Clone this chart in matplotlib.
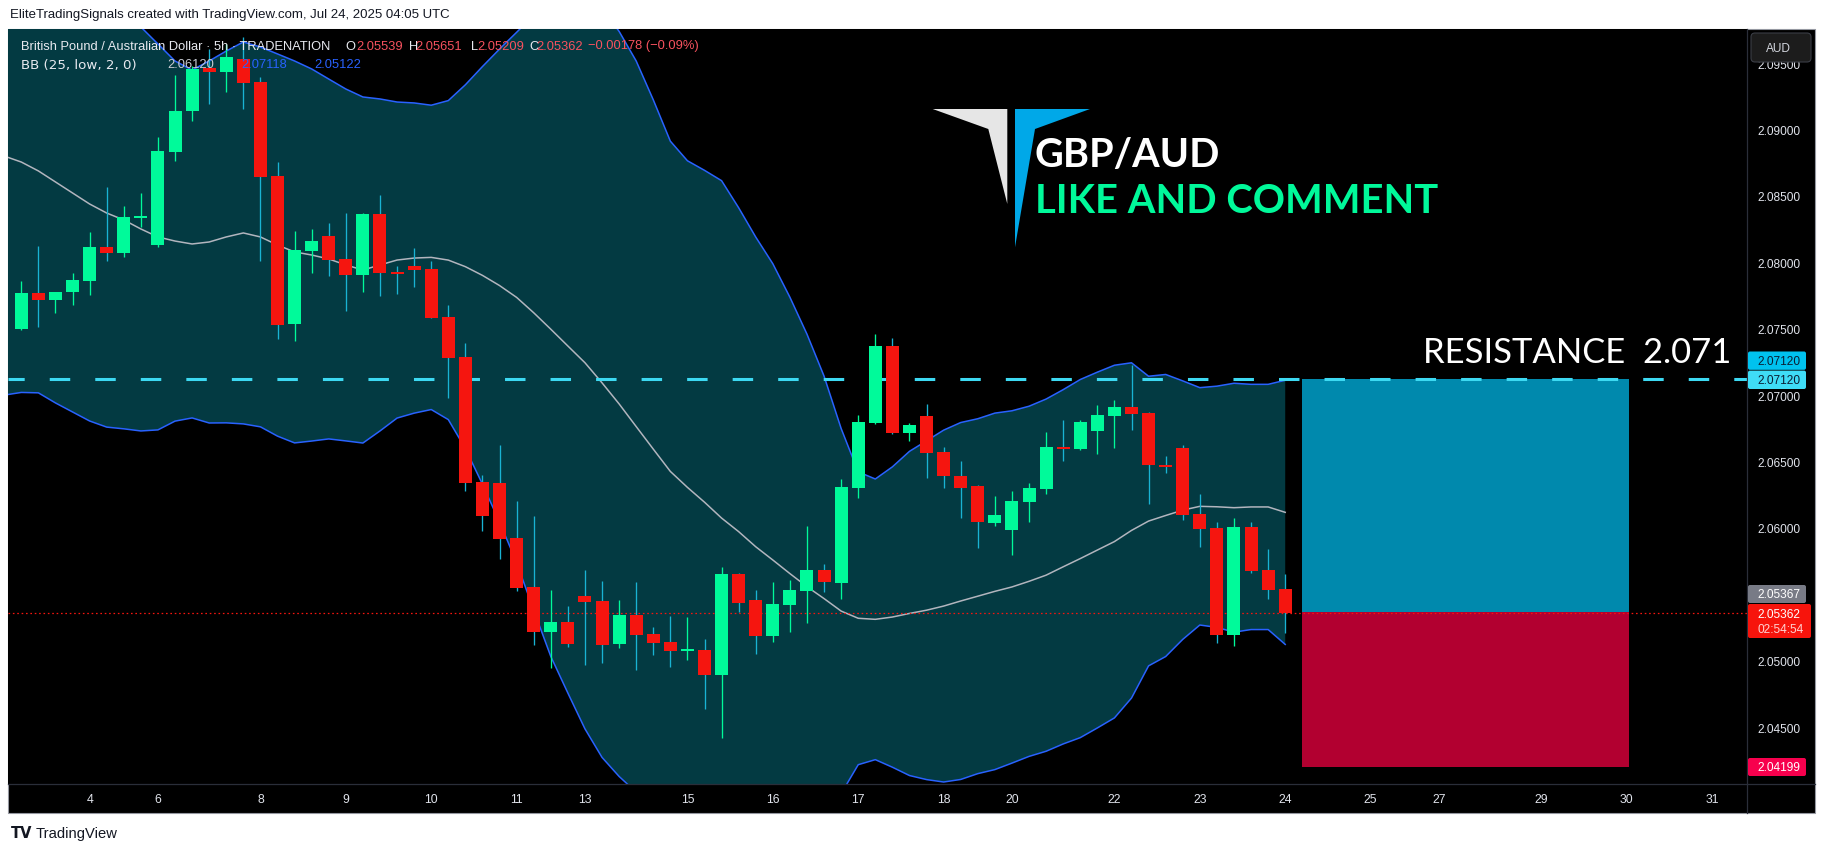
import numpy as np
import matplotlib
matplotlib.use("Agg")
import matplotlib.pyplot as plt
from matplotlib.patches import Rectangle, Polygon, FancyBboxPatch
from matplotlib.lines import Line2D
from matplotlib.transforms import Affine2D

W, H = 1826, 854
UI = ["Liberation Sans", "DejaVu Sans"]
plt.rcParams["font.family"] = UI

# ---------------- data (5h candles, GBP/AUD) ----------------
opens = [2.07498, 2.07769, 2.07718, 2.07779, 2.07862, 2.08115, 2.08072, 2.08340, 2.08130, 2.08830,
         2.09139, 2.09463, 2.09433, 2.09531, 2.09358, 2.08650, 2.07535, 2.08085, 2.08198, 2.08025,
         2.07904, 2.08364, 2.07930, 2.07972, 2.07950, 2.07588, 2.07287, 2.06345, 2.06338, 2.05924,
         2.05555, 2.05216, 2.05291, 2.05487, 2.05450, 2.05126, 2.05344, 2.05201, 2.05140, 2.05080,
         2.05081, 2.04892, 2.05653, 2.05457, 2.05186, 2.05420, 2.05525, 2.05683, 2.05585, 2.06300,
         2.06790, 2.07370, 2.06715, 2.06843, 2.06572, 2.06391, 2.06315, 2.06037, 2.05984, 2.06195,
         2.06293, 2.06609, 2.06594, 2.06727, 2.06843, 2.06910, 2.06865, 2.06474, 2.06602, 2.06105,
         2.06000, 2.05194, 2.06007, 2.05683, 2.05539]
highs = [2.07857, 2.08123, 2.07780, 2.07919, 2.08228, 2.08567, 2.08424, 2.08522, 2.08944, 2.09413,
         2.09480, 2.09606, 2.09644, 2.09697, 2.09395, 2.08755, 2.08236, 2.08251, 2.08296, 2.08371,
         2.08370, 2.08507, 2.07972, 2.08108, 2.08010, 2.07678, 2.07392, 2.06400, 2.06624, 2.06203,
         2.06090, 2.05532, 2.05412, 2.05683, 2.05600, 2.05457, 2.05593, 2.05254, 2.05337, 2.05329,
         2.05163, 2.05706, 2.05660, 2.05532, 2.05593, 2.05608, 2.06014, 2.05728, 2.06368, 2.06850,
         2.07460, 2.07430, 2.06790, 2.06933, 2.06609, 2.06504, 2.06320, 2.06240, 2.06278, 2.06338,
         2.06722, 2.06813, 2.06810, 2.06926, 2.06963, 2.07227, 2.06870, 2.06541, 2.06624, 2.06255,
         2.06044, 2.06075, 2.06044, 2.05841, 2.05651]
lows = [2.07490, 2.07515, 2.07620, 2.07678, 2.07756, 2.08008, 2.08040, 2.08268, 2.08115, 2.08765,
        2.09066, 2.09194, 2.09285, 2.09157, 2.08008, 2.07425, 2.07410, 2.07920, 2.07897, 2.07633,
        2.07776, 2.07746, 2.07761, 2.07814, 2.07580, 2.06978, 2.06278, 2.05977, 2.05766, 2.05525,
        2.05118, 2.04945, 2.05103, 2.04967, 2.04983, 2.05096, 2.04930, 2.05043, 2.04953, 2.05005,
        2.04636, 2.04418, 2.05367, 2.05050, 2.05141, 2.05216, 2.05284, 2.05517, 2.05465, 2.06225,
        2.06780, 2.06710, 2.06654, 2.06376, 2.06300, 2.06075, 2.05849, 2.06014, 2.05796, 2.06044,
        2.06255, 2.06504, 2.06590, 2.06557, 2.06602, 2.06737, 2.06180, 2.06413, 2.06060, 2.05856,
        2.05133, 2.05110, 2.05660, 2.05465, 2.05209]
closes = [2.07769, 2.07718, 2.07776, 2.07867, 2.08115, 2.08072, 2.08341, 2.08342, 2.08838, 2.09139,
          2.09458, 2.09431, 2.09546, 2.09352, 2.08645, 2.07530, 2.08093, 2.08160, 2.08017, 2.07904,
          2.08364, 2.07920, 2.07910, 2.07942, 2.07581, 2.07279, 2.06338, 2.06090, 2.05916, 2.05547,
          2.05216, 2.05291, 2.05128, 2.05442, 2.05118, 2.05344, 2.05194, 2.05133, 2.05073, 2.05081,
          2.04892, 2.05653, 2.05437, 2.05186, 2.05427, 2.05532, 2.05683, 2.05593, 2.06308, 2.06797,
          2.07370, 2.06715, 2.06775, 2.06564, 2.06391, 2.06300, 2.06044, 2.06097, 2.06203, 2.06300,
          2.06609, 2.06594, 2.06797, 2.06850, 2.06910, 2.06858, 2.06474, 2.06460, 2.06097, 2.05992,
          2.05194, 2.06007, 2.05675, 2.05532, 2.05362]

# Bollinger Bands (25, low, 2) for the first bars (index -1 .. 23);
# later bars follow from the visible lows.
bb_upper_early = [2.10600, 2.10490, 2.10359, 2.10269, 2.10171, 2.10073, 2.09983, 2.09892, 2.09772, 2.09644,
                  2.09516, 2.09448, 2.09516, 2.09591, 2.09659, 2.09621, 2.09569, 2.09516, 2.09456, 2.09380,
                  2.09305, 2.09245, 2.09230, 2.09207, 2.09200]
bb_basis_early = [2.08800, 2.08755, 2.08688, 2.08605, 2.08522, 2.08439, 2.08371, 2.08319, 2.08251, 2.08191,
                  2.08160, 2.08138, 2.08153, 2.08191, 2.08221, 2.08191, 2.08130, 2.08078, 2.08055, 2.08025,
                  2.07980, 2.07942, 2.07980, 2.08017, 2.08032]
bb_lower_early = [2.07000, 2.07020, 2.07017, 2.06941, 2.06873, 2.06805, 2.06759, 2.06746, 2.06730, 2.06738,
                  2.06804, 2.06828, 2.06790, 2.06791, 2.06783, 2.06761, 2.06691, 2.06640, 2.06654, 2.06670,
                  2.06655, 2.06639, 2.06730, 2.06827, 2.06864]
bb_length = 25
bb_mult = 2.0

date_ticks = [4, 8, 14, 19, 24, 29, 33, 39, 44, 49, 54, 58, 64, 69, 74, 79, 83, 89, 94, 99]
date_labels = ["4", "6", "8", "9", "10", "11", "13", "15", "16", "17",
               "18", "20", "22", "23", "24", "25", "27", "29", "30", "31"]
price_ticks = [2.045, 2.050, 2.055, 2.060, 2.065, 2.070, 2.075, 2.080, 2.085, 2.090, 2.095]

resistance = 2.07120
entry_price = 2.05367
stop_price = 2.04199
last_close = 2.05362
bb_last = (2.06120, 2.07118, 2.05122)
ohlc_last = (2.05539, 2.05651, 2.05209, 2.05362)
change_text = "\u22120.00178 (\u22120.09%)"

# ---------------- figure ----------------
fig = plt.figure(figsize=(W / 100, H / 100), dpi=100, facecolor="white")
T = Affine2D().scale(1.0 / W, -1.0 / H).translate(0, 1) + fig.transFigure  # pixel coords, top-left origin

def fx(x):
    return x / W

def fy(y):
    return 1 - y / H

# outer chart frame
fig.patches.append(Rectangle((8, 30), 1807, 784, transform=T, facecolor="black",
                             edgecolor="#9598a1", lw=0.8, zorder=-5))

ax = fig.add_axes([fx(8), fy(785), fx(1747) - fx(8), fy(30) - fy(785)])
ax.set_facecolor("black")
for s in ax.spines.values():
    s.set_visible(False)
ax.set_xlim(-0.779, 101.036)
ax.set_ylim(2.040715, 2.097568)

# Bollinger bands
lows_arr = np.array(lows)
up_c, mid_c, lo_c = [], [], []
for i in range(bb_length - 1, len(lows)):
    w = lows_arr[i - bb_length + 1:i + 1]
    m, s = w.mean(), w.std()
    mid_c.append(m)
    up_c.append(m + bb_mult * s)
    lo_c.append(m - bb_mult * s)
bb_x = np.arange(-1, len(lows))
bb_up = np.concatenate([bb_upper_early, up_c])
bb_mid = np.concatenate([bb_basis_early, mid_c])
bb_lo = np.concatenate([bb_lower_early, lo_c])

ax.fill_between(bb_x, bb_lo, bb_up, color="#033a42", lw=0, zorder=1)
ax.plot(bb_x, bb_up, color="#2962ff", lw=1.1, zorder=2)
ax.plot(bb_x, bb_lo, color="#2962ff", lw=1.1, zorder=2)
ax.plot(bb_x, bb_mid, color="#b2b5be", lw=1.1, zorder=2)

# position tool box
box_start, box_end = 75.0, 94.1
ax.add_patch(Rectangle((box_start, entry_price), box_end - box_start, resistance - entry_price,
                       facecolor="#0089ad", lw=0, zorder=1.5))
ax.add_patch(Rectangle((box_start, stop_price), box_end - box_start, entry_price - stop_price,
                       facecolor="#b20030", lw=0, zorder=1.5))

# resistance line and last price line
ax.axhline(resistance, color="#3dd9f2", lw=2.2, ls=(1.4, (6.7, 8.2)), zorder=2.5)
ax.axhline(last_close, color="#f5150f", lw=0.9, ls=(0, (1.3, 2.2)), zorder=2.6)

# candles
o = np.array(opens); c = np.array(closes); hi = np.array(highs); lo = np.array(lows)
xs = np.arange(len(o))
up = c >= o
body_col = np.where(up, "#00fa9a", "#f5150f")
wick_col = np.where(up, "#00fa9a", "#19b3d3")
min_h = 0.00012
hgt = np.maximum(np.abs(c - o), min_h)
bot = np.minimum(o, c) - (hgt - np.abs(c - o)) / 2
ax.vlines(xs, lo, hi, colors=wick_col, lw=0.95, zorder=3)
ax.bar(xs, hgt, bottom=bot, width=0.76, color=body_col, lw=0, zorder=4)

# axes ticks
ax.yaxis.tick_right()
ax.set_yticks(price_ticks)
ax.set_yticklabels([f"{v:.5f}" for v in price_ticks])
ax.set_xticks(date_ticks)
ax.set_xticklabels(date_labels)
ax.tick_params(axis="y", length=0, pad=7.3, labelcolor="#e0e3eb", labelsize=8.6)
ax.tick_params(axis="x", length=0, pad=6.5, labelcolor="#e0e3eb", labelsize=8.8)

# separators
fig.add_artist(Line2D([1747, 1747], [30, 814], transform=T, color="#2a2e39", lw=0.9))
fig.add_artist(Line2D([8, 1815], [785, 785], transform=T, color="#2a2e39", lw=0.9))

# price-axis labels
def plabel(y0, y1, txt, bg, fg, x1=1806, sub=None, subfg=None):
    fig.patches.append(FancyBboxPatch((1748, y0), x1 - 1748, y1 - y0, transform=T,
                                      boxstyle="round,pad=0,rounding_size=2", facecolor=bg,
                                      edgecolor="none", zorder=5))
    if sub is None:
        fig.text(1757, (y0 + y1) / 2, txt, transform=T, color=fg, fontsize=8.6,
                 va="center", ha="left", zorder=6)
    else:
        fig.text(1757, y0 + 10, txt, transform=T, color=fg, fontsize=8.6,
                 va="center", ha="left", zorder=6)
        fig.text(1757, y0 + 25, sub, transform=T, color=subfg, fontsize=8.6,
                 va="center", ha="left", zorder=6)

plabel(352.5, 370.8, f"{resistance:.5f}", "#00c2ef", "#0b1e33")
plabel(371.6, 390.0, f"{resistance:.5f}", "#3fdcf6", "#0b1e33")
plabel(586, 604, f"{entry_price:.5f}", "#787b86", "white")
plabel(605, 639, f"{last_close:.5f}", "#f7140c", "white", x1=1811, sub="02:54:54", subfg="#ffd2d2")
plabel(759, 777, f"{stop_price:.5f}", "#f7004d", "white")

# AUD button
fig.patches.append(FancyBboxPatch((1751, 34), 60, 29, transform=T,
                                  boxstyle="round,pad=0,rounding_size=4", facecolor="#1c1c1c",
                                  edgecolor="#3a3d45", lw=0.8, zorder=7))
fig.text(1766, 48.5, "AUD", transform=T, color="#d1d4dc", fontsize=8.6, va="center", ha="left", zorder=8)

# header legend
white = "#e8eaf0"; red = "#f7525f"; blue = "#2962ff"
hdr = [("British Pound / Australian Dollar \u00b7 5h \u00b7 TRADENATION", 20.7, white),
       ("O", 345, white), (f"{ohlc_last[0]:.5f}", 356, red),
       ("H", 408.6, white), (f"{ohlc_last[1]:.5f}", 415.5, red),
       ("L", 470.6, white), (f"{ohlc_last[2]:.5f}", 477.5, red),
       ("C", 529, white), (f"{ohlc_last[3]:.5f}", 536, red),
       (change_text, 587.7, red)]
for txt, x, col in hdr:
    fig.text(x, 46.5, txt, transform=T, color=col, fontsize=9.3, va="center", ha="left", zorder=9)
fig.text(20.7, 65, "BB (25, low, 2, 0)", transform=T, color=white, fontsize=9.6,
         family=["DejaVu Sans"], va="center", ha="left", zorder=9)
bbl = [(f"{bb_last[0]:.5f}", 167.6, "#c8cbd3"),
       (f"{bb_last[1]:.5f}", 241, blue), (f"{bb_last[2]:.5f}", 314.5, blue)]
for txt, x, col in bbl:
    fig.text(x, 65, txt, transform=T, color=col, fontsize=9.3, va="center", ha="left", zorder=9)

# top credit line and footer
fig.text(10, 15, "EliteTradingSignals created with TradingView.com, Jul 24, 2025 04:05 UTC",
         transform=T, color="#131722", fontsize=9.55, va="center", ha="left")
fig.text(11, 834, "TV", transform=T, color="#131722", fontsize=10.5, fontweight="heavy",
         va="center", ha="left", family="DejaVu Sans")
fig.text(36, 834, "TradingView", transform=T, color="#131722", fontsize=10.6, va="center", ha="left")

# logo
fig.patches.append(Polygon([(932.7, 110), (1007.3, 110), (1007.3, 205), (988.3, 130)],
                           closed=True, transform=T, facecolor="#e6e6e6", edgecolor="none", zorder=3))
fig.patches.append(Polygon([(1015, 110), (1090, 110), (1035, 130), (1015, 248.3)],
                           closed=True, transform=T, facecolor="#00a8e8", edgecolor="none", zorder=3))
fig.text(1035, 166.7, "GBP/AUD", transform=T, color="white", fontsize=28.5, fontweight="bold",
         family=["Lato", "DejaVu Sans"], va="baseline", ha="left", zorder=4)
fig.text(1035, 213.3, "LIKE AND COMMENT", transform=T, color="#00f99a", fontsize=28.7, fontweight="bold",
         family=["Lato", "DejaVu Sans"], va="baseline", ha="left", zorder=4)
fig.text(1423, 363.3, "RESISTANCE  2.071", transform=T, color="white", fontsize=24.9,
         family=["Lato", "DejaVu Sans"], va="baseline", ha="left", zorder=4)

fig.savefig("out.png", dpi=100, facecolor="white")
